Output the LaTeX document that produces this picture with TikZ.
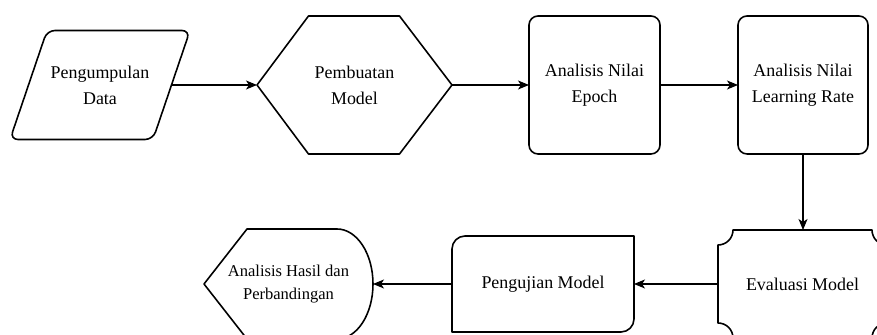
\documentclass[tikz,border=0pt]{standalone}
\usepackage{fontspec}
\setmainfont{Liberation Serif}
\usepackage{tikz}
\usetikzlibrary{arrows.meta}

\begin{document}
\begin{tikzpicture}
\tikzstyle{box}=[inner sep=0pt,outer sep=0pt,align=center,font=\fontsize{10.2}{14.8}\selectfont]
\tikzstyle{outline}=[line width=0.9pt,line join=round]
\tikzstyle{flow}=[line width=0.6pt,-{Stealth[length=2.2mm,width=1.8mm,inset=0.6mm]}]

\useasboundingbox (0,0) rectangle (17.54,6.7);
\clip (0,0) rectangle (17.54,6.7);

% first row
\node [box,minimum width=2.86cm,minimum height=2.18cm] (pengumpulan) at (2.0,5.0) {Pengumpulan\\Data};
\draw [outline,rounded corners=0.16cm] ([xshift=0.37cm]pengumpulan.north west) -- ([xshift=0.37cm]pengumpulan.north east) -- ([xshift=-0.37cm]pengumpulan.south east) -- ([xshift=-0.37cm]pengumpulan.south west) -- cycle;

\node [box,minimum width=3.9cm,minimum height=2.76cm] (pembuatan) at (7.09,5.0) {Pembuatan\\Model};
\draw [outline] (pembuatan.west) -- ([xshift=1.03cm]pembuatan.north west) -- ([xshift=-1.05cm]pembuatan.north east) -- (pembuatan.east) -- ([xshift=-1.05cm]pembuatan.south east) -- ([xshift=1.03cm]pembuatan.south west) -- cycle;

\node [box,outline,draw,rounded corners=0.18cm,minimum width=2.62cm,minimum height=2.76cm] (epoch) at (11.89,5.0) {Analisis Nilai\\Epoch};
\node [box,outline,draw,rounded corners=0.18cm,minimum width=2.6cm,minimum height=2.76cm] (lrate) at (16.06,5.0) {Analisis Nilai\\Learning Rate};

% second row
\node [box,minimum width=3.38cm,minimum height=2.16cm] (evaluasi) at (16.05,1.02) {Evaluasi Model};
\draw [outline] ([xshift=0.3cm]evaluasi.north west) -- ([xshift=-0.3cm]evaluasi.north east) arc [start angle=180,end angle=270,radius=0.3cm] -- ([yshift=0.3cm]evaluasi.south east) arc [start angle=90,end angle=180,radius=0.3cm] -- ([xshift=0.3cm]evaluasi.south west) arc [start angle=0,end angle=90,radius=0.3cm] -- ([yshift=-0.3cm]evaluasi.north west) arc [start angle=270,end angle=360,radius=0.3cm] -- cycle;

\node [box,minimum width=3.64cm,minimum height=1.92cm] (pengujian) at (10.86,1.02) {Pengujian Model};
\draw [outline] ([yshift=-0.26cm]pengujian.north west) arc [start angle=180,end angle=90,radius=0.26cm] -- (pengujian.north east) -- ([yshift=0.26cm]pengujian.south east) arc [start angle=0,end angle=-90,radius=0.26cm] -- (pengujian.south west) -- cycle;

\node [box,font=\fontsize{9.4}{13.1}\selectfont,minimum width=3.38cm,minimum height=2.2cm] (hasil) at (5.77,1.02) {Analisis Hasil dan\\Perbandingan};
\draw [outline] (hasil.west) -- ([xshift=0.86cm]hasil.north west) -- ([xshift=-0.72cm]hasil.north east) arc [start angle=90,end angle=-90,x radius=0.72cm,y radius=1.1cm] -- ([xshift=0.86cm]hasil.south west) -- cycle;

% connectors
\draw [flow] (pengumpulan.east) -- (pembuatan.west);
\draw [flow] (pembuatan.east) -- (epoch.west);
\draw [flow] (epoch.east) -- (lrate.west);
\draw [flow] (lrate.south) -- (lrate.south |- evaluasi.north);
\draw [flow] (evaluasi.west) -- (pengujian.east);
\draw [flow] (pengujian.west) -- (hasil.east);
\end{tikzpicture}
\end{document}
